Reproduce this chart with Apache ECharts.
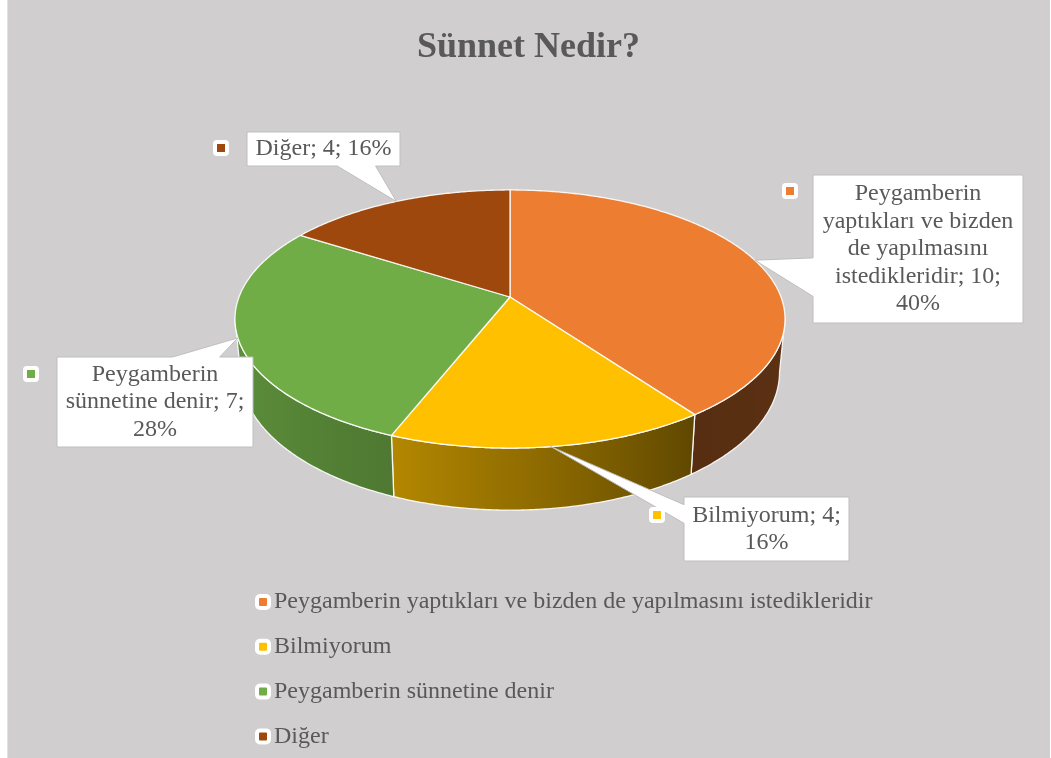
<!DOCTYPE html>
<html><head><meta charset="utf-8">
<script src="https://cdn.jsdelivr.net/npm/echarts@6/dist/echarts.min.js"></script>
<style>
html,body{margin:0;padding:0;}
body{width:1051px;height:758px;overflow:hidden;
background:linear-gradient(to right,#ffffff 0,#ffffff 7px,#e2e2e2 7px,#e2e2e2 8px,#D0CECE 8px,#D0CECE 1050px,#ffffff 1050px);}
#chart{width:1051px;height:758px;}
</style></head><body><div id="chart"></div>
<script>
// ---- data ----
const chartTitle = 'Sünnet Nedir?';
const categories = ['Peygamberin yaptıkları ve bizden de yapılmasını istedikleridir', 'Bilmiyorum', 'Peygamberin sünnetine denir', 'Diğer'];
const values = [10, 4, 7, 4];

// ---- styles / layout ----
const colors = ['#ED7D31', '#FFC000', '#70AD47', '#9E480E'];
const FONT = '"Liberation Serif","Times New Roman",serif';
const TEXT_COLOR = '#595959';
const LABEL_FONT_SIZE = 24;
// projected 3D disc (perspective ellipse)
const PIE = {cx: 510, cy: 297, a: 125.3, b: 271, e: 0.1705, h: 51.5, bx: 0.98};
const SHADE = [[99, 0.39], [144, 0.37], [172, 0.54], [201, 0.70], [230, 0.78], [261, 0.85]];
const LABEL_BOXES = [
  {x: 813, y: 175, w: 210, h: 148, side: 'left', w0: 0.56, w1: 0.82, key: [790, 191]},
  {x: 684, y: 497, w: 165, h: 64, side: 'left', w0: 0.12, w1: 0.41, key: [657, 515]},
  {x: 57, y: 357, w: 196, h: 90, side: 'top', w0: 0.59, w1: 0.83, key: [31, 374]},
  {x: 247, y: 132, w: 153, h: 34, side: 'bottom', w0: 0.59, w1: 0.84, key: [221, 148]}
];

const total = values.reduce((s, v) => s + v, 0);
const startAngles = [];
{ let acc = 0; values.forEach(v => { startAngles.push(acc / total * 360); acc += v; }); }
const PHS = Math.acos(-PIE.e) * 180 / Math.PI;

const measureCtx = document.createElement('canvas').getContext('2d');
function wrapText(text, fontSize, maxW) {
  measureCtx.font = fontSize + 'px ' + FONT;
  const words = text.split(' ');
  const lines = [];
  let cur = '';
  words.forEach(w => {
    const test = cur ? cur + ' ' + w : w;
    if (!cur || measureCtx.measureText(test).width <= maxW) cur = test;
    else { lines.push(cur); cur = w; }
  });
  if (cur) lines.push(cur);
  return lines.join('\n');
}

function rim(deg, bottom) {
  const p = deg * Math.PI / 180;
  const d = 1 + PIE.e * Math.cos(p);
  let x = PIE.b * Math.sin(p) / d;
  let y = -PIE.a * Math.cos(p) / d;
  if (bottom) { x *= PIE.bx; y += PIE.h / d; }
  return [PIE.cx + x, PIE.cy + y];
}
function samples(a1, a2) {
  const n = Math.max(2, Math.ceil(Math.abs(a2 - a1) / 0.5));
  const out = [];
  for (let k = 0; k <= n; k++) out.push(a1 + (a2 - a1) * k / n);
  return out;
}
function shadeAt(deg) {
  if (deg <= SHADE[0][0]) return SHADE[0][1];
  for (let i = 1; i < SHADE.length; i++) {
    if (deg <= SHADE[i][0]) {
      const t = (deg - SHADE[i - 1][0]) / (SHADE[i][0] - SHADE[i - 1][0]);
      return SHADE[i - 1][1] + t * (SHADE[i][1] - SHADE[i - 1][1]);
    }
  }
  return SHADE[SHADE.length - 1][1];
}
function scaleColor(hex, k) {
  const n = parseInt(hex.slice(1), 16);
  const r = Math.round(((n >> 16) & 255) * k), g = Math.round(((n >> 8) & 255) * k), b = Math.round((n & 255) * k);
  return 'rgb(' + r + ',' + g + ',' + b + ')';
}

function renderSlice(i) {
  const a1 = startAngles[i];
  const a2 = a1 + values[i] / total * 360;
  const children = [];
  const lo = Math.max(a1, PHS), hi = Math.min(a2, 360 - PHS);
  if (hi > lo) {
    const angs = samples(lo, hi);
    const pts = angs.map(a => rim(a, false)).concat(angs.slice().reverse().map(a => rim(a, true)));
    const x0 = rim(lo, false)[0], x1 = rim(hi, false)[0];
    const stops = angs.filter((_, k, arr) => k % 8 === 0 || k === arr.length - 1).map(a => ({
      offset: Math.min(1, Math.max(0, (rim(a, false)[0] - x0) / (x1 - x0))),
      color: scaleColor(colors[i], shadeAt(a))
    }));
    children.push({
      type: 'polygon', shape: {points: pts},
      style: {fill: new echarts.graphic.LinearGradient(x0, 0, x1, 0, stops, true), stroke: 'rgba(255,255,255,0.9)', lineWidth: 1.3, lineJoin: 'round'}
    });
  }
  const topPts = [[PIE.cx, PIE.cy]].concat(samples(a1, a2).map(a => rim(a, false)));
  children.push({
    type: 'polygon', shape: {points: topPts},
    style: {fill: colors[i], stroke: 'rgba(255,255,255,0.9)', lineWidth: 1.3, lineJoin: 'round'}
  });
  return {type: 'group', children: children};
}

function renderLabel(i) {
  const L = LABEL_BOXES[i];
  const mid = startAngles[i] + values[i] / total * 180;
  const tip = rim(mid, false);
  const x = L.x, y = L.y, w = L.w, h = L.h;
  let pts;
  if (L.side === 'top') pts = [[x, y], [x + L.w0 * w, y], tip, [x + L.w1 * w, y], [x + w, y], [x + w, y + h], [x, y + h]];
  else if (L.side === 'bottom') pts = [[x, y], [x + w, y], [x + w, y + h], [x + L.w1 * w, y + h], tip, [x + L.w0 * w, y + h], [x, y + h]];
  else if (L.side === 'left') pts = [[x, y], [x + w, y], [x + w, y + h], [x, y + h], [x, y + L.w1 * h], tip, [x, y + L.w0 * h]];
  else pts = [[x, y], [x + w, y], [x + w, y + L.w0 * h], tip, [x + w, y + L.w1 * h], [x + w, y + h], [x, y + h]];
  const pct = Math.round(values[i] / total * 100);
  const text = wrapText(categories[i] + '; ' + values[i] + '; ' + pct + '%', LABEL_FONT_SIZE, w - 12);
  return {
    type: 'group', children: [
      {type: 'polygon', shape: {points: pts}, style: {fill: '#ffffff', stroke: '#bfbfbf', lineWidth: 1}},
      {type: 'text', x: x + w / 2, y: y + h / 2, style: {
        text: text, align: 'center', verticalAlign: 'middle',
        fontSize: LABEL_FONT_SIZE, lineHeight: 27.5, fontFamily: FONT, fill: TEXT_COLOR}},
      {type: 'rect', shape: {x: L.key[0] - 6, y: L.key[1] - 6, width: 12, height: 12, r: 2},
        style: {fill: colors[i], stroke: '#ffffff', lineWidth: 4, lineJoin: 'round'}}
    ]
  };
}

const series = categories.map((name, i) => ({
  type: 'custom', name: name, coordinateSystem: 'none', silent: true, z: 2,
  data: [values[i]], itemStyle: {color: colors[i]},
  renderItem: () => renderSlice(i)
}));
series.push({
  type: 'custom', coordinateSystem: 'none', silent: true, z: 10,
  data: values.slice(),
  renderItem: (params) => renderLabel(params.dataIndex)
});

const chart = echarts.init(document.getElementById('chart'), null, {renderer: 'canvas'});
chart.setOption({
  backgroundColor: 'transparent',
  animation: false,
  color: colors,
  title: {
    text: chartTitle, left: 417, top: 28, padding: 0,
    textStyle: {fontSize: 36, fontWeight: 'bold', fontFamily: FONT, color: TEXT_COLOR, lineHeight: 40}
  },
  legend: {
    orient: 'vertical', left: 250, top: 585, itemWidth: 12, itemHeight: 12, itemGap: 20.8,
    icon: 'roundRect', selectedMode: false, data: categories,
    itemStyle: {borderColor: '#ffffff', borderWidth: 4},
    textStyle: {fontSize: 24, fontFamily: FONT, color: TEXT_COLOR, lineHeight: 24}
  },
  series: series
});
</script></body></html>
